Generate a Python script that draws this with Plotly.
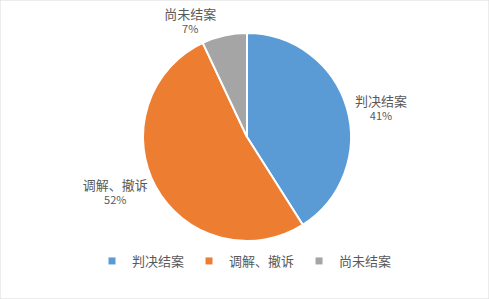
import plotly.graph_objects as go

# Case outcome shares
categories = ["判决结案", "调解、撤诉", "尚未结案"]
shares = [41, 52, 7]
colors = ["#5B9BD5", "#ED7D31", "#A5A5A5"]

W, H = 489, 299
FONT = "Noto Sans CJK SC, Microsoft YaHei, sans-serif"
TEXT_COLOR = "#595959"

fig = go.Figure()

fig.add_trace(go.Pie(
    labels=categories,
    values=shares,
    sort=False,
    direction="clockwise",
    rotation=0,
    marker=dict(colors=colors, line=dict(color="white", width=2)),
    texttemplate="<span style='font-size:13px'>%{label}</span><br>%{percent:.0%}",
    textposition="outside",
    textfont=dict(family=FONT, size=11, color=TEXT_COLOR),
    showlegend=False,
    domain=dict(x=[143 / W, 351 / W], y=[58 / H, 266 / H]),
    hoverinfo="label+percent",
))

# Legend entries with small square swatches
for name, col in zip(categories, colors):
    fig.add_trace(go.Scatter(
        x=[None], y=[None], mode="markers", name=name,
        marker=dict(symbol="square", size=7, color=col),
        showlegend=True,
    ))

fig.update_layout(
    width=W, height=H,
    margin=dict(l=0, r=0, t=0, b=0),
    paper_bgcolor="white",
    plot_bgcolor="white",
    font=dict(family=FONT, size=13, color=TEXT_COLOR),
    xaxis=dict(visible=False),
    yaxis=dict(visible=False),
    legend=dict(
        orientation="h", x=0.5, xanchor="center", y=38 / H, yanchor="middle",
        font=dict(family=FONT, size=13, color=TEXT_COLOR),
        bgcolor="rgba(0,0,0,0)",
    ),
    shapes=[dict(type="rect", xref="paper", yref="paper", x0=0, y0=0, x1=1, y1=1,
                 line=dict(color="#D9D9D9", width=1))],
)

fig.write_html("out.html")
